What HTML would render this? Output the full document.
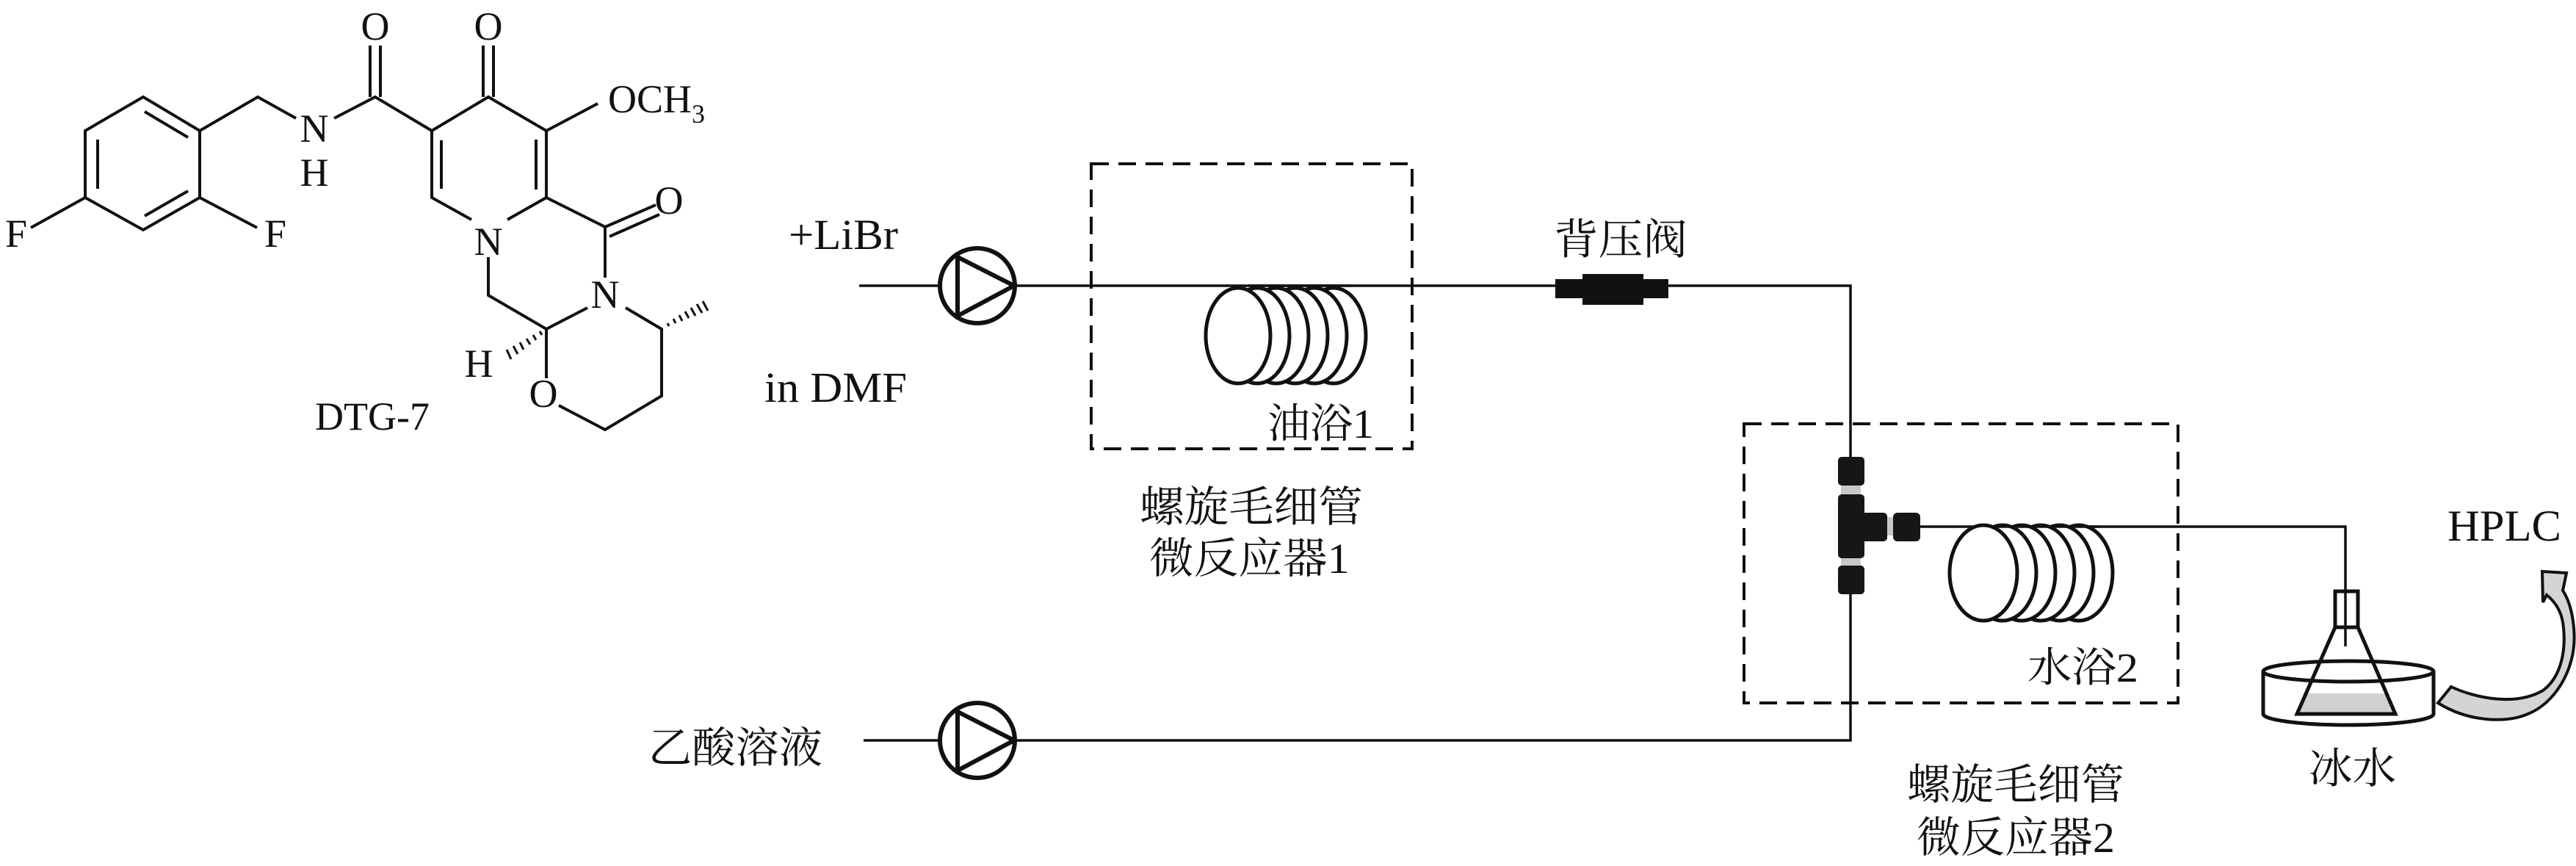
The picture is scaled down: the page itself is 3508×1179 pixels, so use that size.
<!DOCTYPE html>
<html><head><meta charset="utf-8"><style>
html,body{margin:0;padding:0;background:#fff;}
svg{display:block;}
.t{font-family:"Liberation Serif","Noto Serif CJK SC",serif;fill:#111;}
.c{font-family:"Liberation Serif","Noto Serif CJK SC","Noto Sans CJK SC",serif;fill:#111;}
</style></head><body>
<svg width="3508" height="1179" viewBox="0 0 3508 1179" xmlns="http://www.w3.org/2000/svg">
<rect width="3508" height="1179" fill="#fff"/>
<!-- Molecule -->
<g stroke="#111" stroke-width="4" fill="none" stroke-linecap="butt">
<path d="M195,132 L272,178 L272,269 L195,313 L116,269 L116,178 Z"/>
<path d="M197,152 L256,187"/>
<path d="M133,190 L133,257"/>
<path d="M197,294 L256,260"/>
<path d="M116,269 L42,310"/>
<path d="M272,269 L350,310"/>
<path d="M272,178 L351,132 L403,161"/>
<path d="M455,161 L511,132 L588,178"/>
<path d="M504,62 L504,132 M518,62 L518,132"/>
<path d="M588,178 L665,132 L744,178 L744,269"/>
<path d="M658,62 L658,132 M672,62 L672,132"/>
<path d="M601,191 L601,257"/>
<path d="M730,190 L730,258"/>
<path d="M588,178 L588,269 L642,299"/>
<path d="M744,269 L691,299"/>
<path d="M744,178 L814,141"/>
<path d="M744,269 L824,309 L824,378"/>
<path d="M824,309 L893,279 M830,322 L898,292"/>
<path d="M665,350 L665,402 L744,448 L800,419"/>
<path d="M852,419 L901,448 L901,539 L824,585 L761,552"/>
<path d="M744,448 L744,515"/>
</g>
<!-- hashed bonds -->
<g stroke="#111" stroke-width="3">
<path d="M909,440 l2,4 M917,434 l3,6 M925,429 l4,8 M933,424 l5,9 M941,419 l6,11 M949,414 l7,12 M957,410 l7,13"/>
<path d="M735,451 l3,5 M726,456 l4,7 M717,461 l5,8 M708,466 l5,10 M699,471 l6,11 M690,476 l6,13"/>
</g>
<g class="t" font-size="54" text-anchor="middle">
<text x="22" y="336">F</text>
<text x="375" y="336">F</text>
<text x="428" y="193">N</text>
<text x="428" y="253">H</text>
<text x="511" y="54">O</text>
<text x="665" y="54">O</text>
<text x="911" y="291">O</text>
<text x="665" y="347">N</text>
<text x="824" y="419">N</text>
<text x="652" y="513">H</text>
<text x="740" y="554">O</text>
<text x="507" y="585">DTG-7</text>
</g>
<text class="t" x="828" y="153" font-size="54">OCH<tspan font-size="36" dy="14">3</tspan></text>

<!-- Left labels -->
<text class="t" x="1074" y="339" font-size="58" textLength="149" lengthAdjust="spacingAndGlyphs">+LiBr</text>
<text class="t" x="1041" y="547" font-size="58" textLength="194" lengthAdjust="spacingAndGlyphs">in DMF</text>
<text class="c" x="883" y="1038" font-size="58" textLength="237" lengthAdjust="spacingAndGlyphs">乙酸溶液</text>

<!-- Flow lines -->
<g stroke="#111" stroke-width="3.5" fill="none">
<path d="M1170,389 L2520,389 L2520,622"/>
<path d="M2520,809 L2520,1008 L1176,1008"/>
<path d="M2615,717 L3194,717 L3194,805"/>
</g>
<!-- Pumps -->
<g stroke="#111" stroke-width="6" fill="#fff">
<circle cx="1331" cy="389" r="51"/>
<path d="M1304,350 L1304,430 L1381,389 Z" fill="none"/>
<circle cx="1331" cy="1008" r="51"/>
<path d="M1304,969 L1304,1049 L1381,1008 Z" fill="none"/>
</g>
<!-- Dashed boxes -->
<g stroke="#111" stroke-width="4" fill="none" stroke-dasharray="24,13">
<rect x="1486" y="223" width="437" height="388"/>
<rect x="2375" y="577" width="591" height="380"/>
</g>
<!-- Coil 1 -->
<g stroke="#111" stroke-width="5" fill="#fff">
<ellipse cx="1816" cy="457" rx="44" ry="65"/>
<ellipse cx="1790" cy="457" rx="44" ry="65"/>
<ellipse cx="1764" cy="457" rx="44" ry="65"/>
<ellipse cx="1738" cy="457" rx="44" ry="65"/>
<ellipse cx="1712" cy="457" rx="44" ry="65"/>
<ellipse cx="1686" cy="457" rx="44" ry="65"/>
</g>
<line x1="1700" y1="389" x2="1840" y2="389" stroke="#111" stroke-width="3.5"/>
<!-- Coil 2 -->
<g stroke="#111" stroke-width="5" fill="#fff">
<ellipse cx="2831" cy="780" rx="46" ry="65"/>
<ellipse cx="2805" cy="780" rx="46" ry="65"/>
<ellipse cx="2779" cy="780" rx="46" ry="65"/>
<ellipse cx="2753" cy="780" rx="46" ry="65"/>
<ellipse cx="2727" cy="780" rx="46" ry="65"/>
<ellipse cx="2701" cy="780" rx="46" ry="65"/>
</g>
<line x1="2715" y1="717" x2="2860" y2="717" stroke="#111" stroke-width="3.5"/>
<!-- Back pressure valve -->
<rect x="2118" y="380" width="154" height="26" fill="#111"/>
<rect x="2155" y="373" width="83" height="42" fill="#111"/>
<!-- T fitting -->
<rect x="2507" y="658" width="27" height="16" fill="#c8c8c8"/>
<rect x="2507" y="757" width="27" height="16" fill="#c8c8c8"/>
<rect x="2566" y="704" width="14" height="25" fill="#c8c8c8"/>
<g fill="#161616">
<rect x="2503" y="622" width="36" height="39" rx="5"/>
<rect x="2503" y="673" width="36" height="87" rx="5"/>
<rect x="2530" y="698" width="40" height="39" rx="5"/>
<rect x="2578" y="698" width="37" height="39" rx="6"/>
<rect x="2503" y="770" width="36" height="39" rx="5"/>
</g>
<!-- Ice bath + flask -->
<g stroke="#111" stroke-width="5" fill="none">
<path d="M3082,914 L3082,972 A116,15 0 0 0 3314,972 L3314,914"/>
<ellipse cx="3198" cy="914" rx="116" ry="14"/>
</g>
<path d="M3139,944 L3251,944 L3262,972 L3128,972 Z" fill="#d0d0d0"/>
<g stroke="#111" stroke-width="5" fill="none">
<path d="M3180,854 L3128,972 L3262,972 L3211,854 Z"/>
<rect x="3180" y="805" width="31" height="49"/>
</g>
<line x1="3194" y1="805" x2="3194" y2="880" stroke="#111" stroke-width="3.5"/>
<!-- curved arrow -->
<path d="M3338,935 C3370,950 3425,962 3463,940 C3490,920 3495,880 3490,847 C3487,830 3478,818 3468,810 L3463,820 L3462,778 L3495,780 L3490,804 C3504,825 3509,865 3503,893 C3496,925 3475,960 3440,973 C3410,985 3360,982 3320,957 Z" fill="#d4d4d4" stroke="#111" stroke-width="4" stroke-linejoin="miter"/>
<!-- Labels -->
<text class="c" x="2116" y="346" font-size="58" textLength="182" lengthAdjust="spacingAndGlyphs">背压阀</text>
<text class="c" x="1726" y="596" font-size="56" textLength="145" lengthAdjust="spacingAndGlyphs">油浴1</text>
<text class="c" x="1552" y="710" font-size="58" textLength="304" lengthAdjust="spacingAndGlyphs">螺旋毛细管</text>
<text class="c" x="1565" y="780" font-size="58" textLength="273" lengthAdjust="spacingAndGlyphs">微反应器1</text>
<text class="c" x="2761" y="928" font-size="56" textLength="151" lengthAdjust="spacingAndGlyphs">水浴2</text>
<text class="c" x="2597" y="1088" font-size="58" textLength="296" lengthAdjust="spacingAndGlyphs">螺旋毛细管</text>
<text class="c" x="2610" y="1160" font-size="58" textLength="270" lengthAdjust="spacingAndGlyphs">微反应器2</text>
<text class="c" x="3144" y="1066" font-size="58" textLength="119" lengthAdjust="spacingAndGlyphs">冰水</text>
<text class="t" x="3333" y="736" font-size="60" textLength="155" lengthAdjust="spacingAndGlyphs">HPLC</text>
</svg>
</body></html>
